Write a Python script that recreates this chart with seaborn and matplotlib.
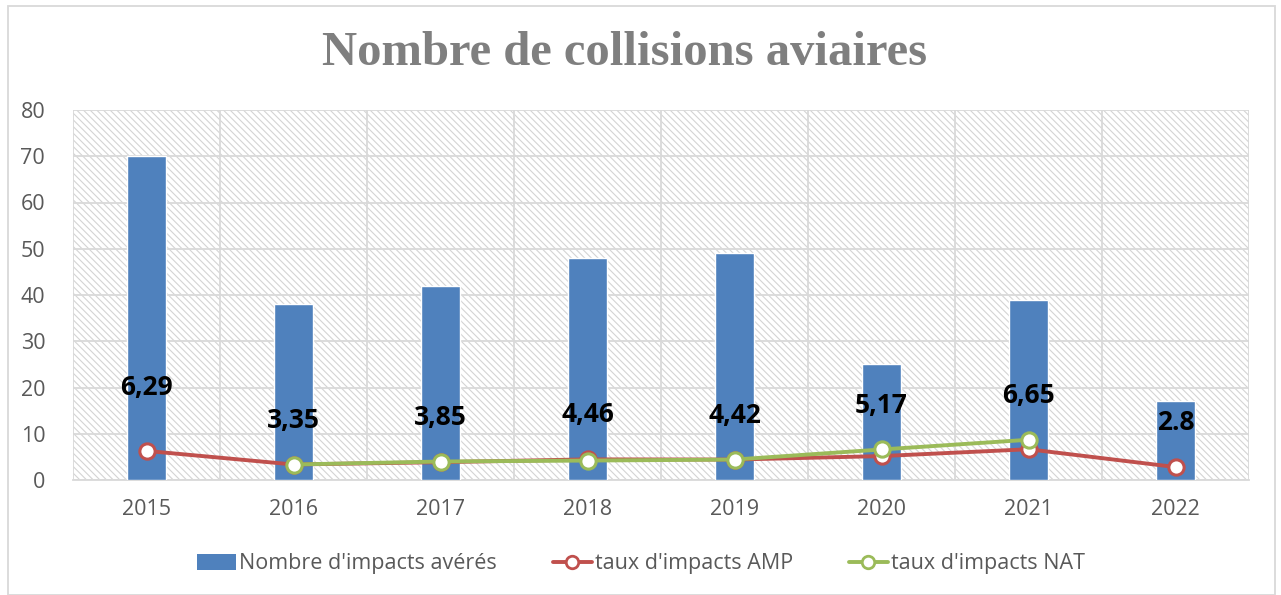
import matplotlib
matplotlib.use("Agg")
import matplotlib.pyplot as plt
import seaborn as sns
import numpy as np
import pandas as pd
from matplotlib.patches import Rectangle
from matplotlib.lines import Line2D

years = ["2015", "2016", "2017", "2018", "2019", "2020", "2021", "2022"]
impacts = [70, 38, 42, 48, 49, 25, 39, 17]
taux_amp = [6.29, 3.35, 3.85, 4.46, 4.42, 5.17, 6.65, 2.8]
taux_nat = [np.nan, 3.35, 4.0, 4.2, 4.42, 6.6, 8.7, np.nan]
value_labels = ["6,29", "3,35", "3,85", "4,46", "4,42", "5,17", "6,65", "2.8"]

sns.set_theme(style="white")
plt.rcParams["font.family"] = ["Open Sans", "DejaVu Sans"]
plt.rcParams["hatch.linewidth"] = 0.8
plt.rcParams["hatch.color"] = "#d4d4d4"

fig = plt.figure(figsize=(12.81, 5.95), dpi=100)
ax = fig.add_axes([73/1281, 1 - 480/595, (1249-73)/1281, 370/595])

ax.patch.set_facecolor("white")
ax.patch.set_hatch("\\\\\\\\\\")
ax.patch.set_edgecolor("#d4d4d4")

pos = np.arange(len(years))
df = pd.DataFrame({"year": years, "impacts": impacts})
sns.barplot(data=df, x="year", y="impacts", color="#4F81BD", width=0.27,
            saturation=1, ax=ax, zorder=3)

amp_df = pd.DataFrame({"x": pos, "y": taux_amp})
nat_df = pd.DataFrame({"x": pos, "y": taux_nat}).dropna()
sns.lineplot(data=amp_df, x="x", y="y", color="#C0504D", linewidth=2.8,
             marker="o", markersize=11, markerfacecolor="white",
             markeredgecolor="#C0504D", markeredgewidth=2.2, ax=ax, zorder=4,
             sort=False)
sns.lineplot(data=nat_df, x="x", y="y", color="#9BBB59", linewidth=2.8,
             marker="o", markersize=11, markerfacecolor="white",
             markeredgecolor="#9BBB59", markeredgewidth=2.2, ax=ax, zorder=5,
             sort=False)

for i, lab in enumerate(value_labels):
    vals = [v for v in (taux_amp[i], taux_nat[i]) if not np.isnan(v)]
    top = max(vals)
    off = 13.8 if i == 0 else 9.6
    ax.text(i, top + off, lab, ha="center", va="center", fontsize=19,
            fontweight="bold", color="black", zorder=6)

ax.set_xlim(-0.5, len(years) - 0.5)
ax.set_ylim(0, 80)
ax.set_yticks(range(0, 81, 10))
ax.set_xticks(pos)
ax.set_xticklabels(years)
ax.set_xticks(np.arange(-0.5, len(years), 1), minor=True)
ax.grid(axis="y", which="major", color="#d9d9d9", linewidth=1.3, zorder=1)
ax.grid(axis="x", which="minor", color="#d9d9d9", linewidth=1.3, zorder=1)
ax.grid(axis="x", which="major", visible=False)
ax.set_axisbelow(True)
ax.set_xlabel("")
ax.set_ylabel("")
for s in ["top", "right", "left"]:
    ax.spines[s].set_visible(False)
ax.spines["bottom"].set_color("#d9d9d9")
ax.spines["bottom"].set_linewidth(1.3)
ax.tick_params(axis="both", which="both", length=0, labelsize=15.5,
               labelcolor="#595959")
ax.tick_params(axis="x", pad=14)
ax.tick_params(axis="y", pad=20)

fig.text(625/1281, 1 - 53/595, "Nombre de collisions aviaires", ha="center",
         va="center", fontsize=35, fontweight="bold", color="#7f7f7f",
         family=["Liberation Serif", "DejaVu Serif"])

handles = [
    Rectangle((0, 0), 1, 1, facecolor="#4F81BD", edgecolor="none"),
    Line2D([], [], color="#C0504D", linewidth=2.8, marker="o", markersize=9,
           markerfacecolor="white", markeredgecolor="#C0504D", markeredgewidth=2),
    Line2D([], [], color="#9BBB59", linewidth=2.8, marker="o", markersize=9,
           markerfacecolor="white", markeredgecolor="#9BBB59", markeredgewidth=2),
]
labels = ["Nombre d'impacts avérés", "taux d'impacts AMP", "taux d'impacts NAT"]
leg = fig.legend(handles, labels, loc="center", bbox_to_anchor=(641/1281, 1 - 564/595),
                 ncol=3, frameon=False, fontsize=15.5, handlelength=1.8,
                 handletextpad=0.15, columnspacing=2.6)
for t in leg.get_texts():
    t.set_color("#595959")

fig.patches.append(Rectangle((8/1281, 0.0), (1275-8)/1281, 1 - 6/595,
                             transform=fig.transFigure, fill=False,
                             edgecolor="#d9d9d9", linewidth=1.3))

fig.savefig("out.png", dpi=100, facecolor="white")
